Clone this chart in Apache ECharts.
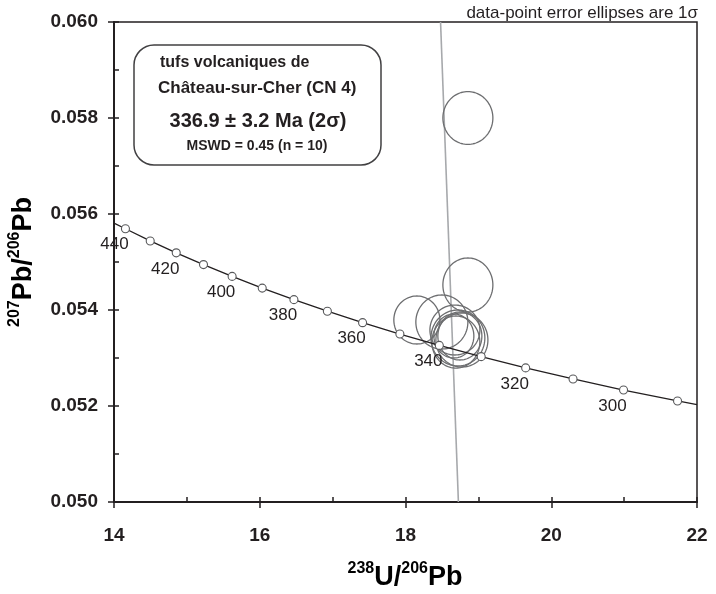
<!DOCTYPE html>
<html>
<head>
<meta charset="utf-8">
<script src="https://cdn.jsdelivr.net/npm/echarts@6/dist/echarts.min.js"></script>
<style>
  html, body { margin: 0; padding: 0; background: #fff; }
  #chart { width: 716px; height: 594px; }
</style>
</head>
<body>
<div id="chart"></div>
<script>
// Concordia age marks (Ma) and their ratios
const concordiaAges = [440, 430, 420, 410, 400, 390, 380, 370, 360, 350, 340, 330, 320, 310, 300, 290];
const concordiaU = [14.157, 14.497, 14.854, 15.228, 15.621, 16.034, 16.469, 16.928, 17.411, 17.923, 18.464, 19.039, 19.649, 20.299, 20.992, 21.733];
const concordiaPb = [0.055692, 0.055439, 0.055191, 0.054946, 0.054700, 0.054456, 0.054216, 0.053975, 0.053736, 0.053499, 0.053262, 0.053028, 0.052794, 0.052563, 0.052332, 0.052105];
const labelledAges = [440, 420, 400, 380, 360, 340, 320, 300];

// Curve ends where it leaves the plot
const curveEdgeU = [14, 22];
const curveEdgePb = [0.05581, 0.05203];

// Analyses: centre and 1-sigma half-widths
const spotU   = [18.856, 18.856, 18.156, 18.499, 18.678, 18.719, 18.746, 18.691, 18.774, 18.664];
const spotPb  = [0.05800, 0.054521, 0.053792, 0.05375, 0.053583, 0.053417, 0.053458, 0.053333, 0.053375, 0.053458];
const spotSU  = [0.343, 0.343, 0.316, 0.357, 0.343, 0.370, 0.302, 0.329, 0.357, 0.274];
const spotSPb = [0.00055, 0.000563, 0.00050, 0.000563, 0.00052, 0.000583, 0.00050, 0.000542, 0.000563, 0.000458];

// Regression line through the analyses
const regU  = [18.481, 18.726];
const regPb = [0.060, 0.050];

// Axis ranges
const xMin = 14, xMax = 22, xStep = 2, xMinor = 1;
const yMin = 0.050, yMax = 0.060, yStep = 0.002, yMinor = 0.001;

const FONT = '"Liberation Sans", Arial, Helvetica, sans-serif';
const INK = '#231f20';

const curveData = [[curveEdgeU[0], curveEdgePb[0]]]
  .concat(concordiaU.map((u, i) => [u, concordiaPb[i]]))
  .concat([[curveEdgeU[1], curveEdgePb[1]]]);
const markData = concordiaU.map((u, i) => [u, concordiaPb[i], concordiaAges[i]]);
const spotData = spotU.map((u, i) => [u, spotPb[i], spotSU[i], spotSPb[i]]);
const regData = regU.map((u, i) => [u, regPb[i]]);

function ellipse(params, api) {
  const c = api.coord([api.value(0), api.value(1)]);
  const s = api.size([api.value(2), api.value(3)]);
  const pts = [];
  for (let k = 0; k <= 96; k++) {
    const t = k / 96 * Math.PI * 2;
    pts.push([c[0] + s[0] * Math.cos(t), c[1] + s[1] * Math.sin(t)]);
  }
  return {
    type: 'polygon',
    shape: { points: pts },
    style: { fill: 'none', stroke: '#6d6e70', lineWidth: 1.3 }
  };
}

const chart = echarts.init(document.getElementById('chart'), null, { renderer: 'canvas' });

const axisTitleRich = {
  s: { fontFamily: FONT, fontWeight: 'bold', fontSize: 16, color: INK, verticalAlign: 'top', lineHeight: 30 },
  b: { fontFamily: FONT, fontWeight: 'bold', fontSize: 27, color: INK, verticalAlign: 'bottom', lineHeight: 30 }
};

chart.setOption({
  animation: false,
  backgroundColor: '#fff',
  grid: { left: 114, right: 19, top: 22, bottom: 92, show: true, borderColor: INK, borderWidth: 1.5, backgroundColor: 'transparent' },
  xAxis: [
    {
      type: 'value', min: xMin, max: xMax, interval: xStep,
      axisLine: { show: true, onZero: false, lineStyle: { color: INK, width: 2 } },
      axisTick: { show: true, inside: false, length: 6, lineStyle: { color: INK, width: 1.5 } },
      axisLabel: { margin: 24, fontFamily: FONT, fontWeight: 'bold', fontSize: 19, color: INK },
      splitLine: { show: false }
    },
    {
      type: 'value', min: xMin, max: xMax, interval: xMinor, position: 'bottom',
      axisLine: { show: false, onZero: false },
      axisTick: { show: true, inside: true, length: 5, lineStyle: { color: INK, width: 1.5 } },
      axisLabel: { show: false },
      splitLine: { show: false }
    }
  ],
  yAxis: [
    {
      type: 'value', min: yMin, max: yMax, interval: yStep,
      axisLine: { show: true, onZero: false, lineStyle: { color: INK, width: 2 } },
      axisTick: { show: true, inside: false, length: 6, lineStyle: { color: INK, width: 1.5 } },
      axisLabel: { margin: 16, fontFamily: FONT, fontWeight: 'bold', fontSize: 19, color: INK,
        formatter: v => v.toFixed(3) },
      splitLine: { show: false }
    },
    {
      type: 'value', min: yMin, max: yMax, interval: yMinor, position: 'left',
      axisLine: { show: false, onZero: false },
      axisTick: { show: true, inside: true, length: 5, lineStyle: { color: INK, width: 1.5 } },
      axisLabel: { show: false },
      splitLine: { show: false }
    }
  ],
  series: [
    {
      type: 'line', data: regData, symbol: 'none', z: 1,
      lineStyle: { color: '#a7a9ac', width: 1.6 }, silent: true
    },
    {
      type: 'custom', data: spotData, renderItem: ellipse, z: 2, clip: false, silent: true
    },
    {
      type: 'line', data: curveData, symbol: 'none', z: 3,
      lineStyle: { color: INK, width: 1.3 }, silent: true
    },
    {
      type: 'scatter', data: markData, z: 4, symbol: 'circle', symbolSize: 8,
      itemStyle: { color: '#fff', borderColor: '#58595b', borderWidth: 1.1, opacity: 1 },
      label: {
        show: true, position: 'inside', offset: [-11, 16],
        fontFamily: FONT, fontSize: 17, color: INK,
        formatter: p => labelledAges.includes(p.value[2]) ? String(p.value[2]) : ''
      },
      silent: true
    }
  ],
  graphic: [
    {
      type: 'text', x: 698, y: 13,
      style: { text: 'data-point error ellipses are 1σ', fontFamily: FONT, fontSize: 17, fill: INK, align: 'right', verticalAlign: 'middle' }
    },
    {
      type: 'rect', shape: { x: 134, y: 45, width: 247, height: 120, r: 20 },
      style: { fill: '#fff', stroke: '#414042', lineWidth: 1.5 }, z: 10
    },
    {
      type: 'text', x: 160, y: 63, z: 11,
      style: { text: 'tufs volcaniques de', fontFamily: FONT, fontWeight: 'bold', fontSize: 16, fill: INK, verticalAlign: 'middle' }
    },
    {
      type: 'text', x: 158, y: 88, z: 11,
      style: { text: 'Château-sur-Cher (CN 4)', fontFamily: FONT, fontWeight: 'bold', fontSize: 17, fill: INK, verticalAlign: 'middle' }
    },
    {
      type: 'text', x: 258, y: 121, z: 11,
      style: { text: '336.9 ± 3.2 Ma (2σ)', fontFamily: FONT, fontWeight: 'bold', fontSize: 20, fill: INK, align: 'center', verticalAlign: 'middle' }
    },
    {
      type: 'text', x: 257, y: 146, z: 11,
      style: { text: 'MSWD = 0.45 (n = 10)', fontFamily: FONT, fontWeight: 'bold', fontSize: 14, fill: INK, align: 'center', verticalAlign: 'middle' }
    },
    {
      type: 'text', x: 405, y: 576, z: 11,
      style: { text: '{s|238}{b|U/}{s|206}{b|Pb}', rich: axisTitleRich, align: 'center', verticalAlign: 'middle' }
    },
    {
      type: 'text', x: 22, y: 262, rotation: Math.PI / 2, z: 11,
      style: { text: '{s|207}{b|Pb/}{s|206}{b|Pb}', rich: axisTitleRich, align: 'center', verticalAlign: 'middle' }
    }
  ]
});
</script>
</body>
</html>
